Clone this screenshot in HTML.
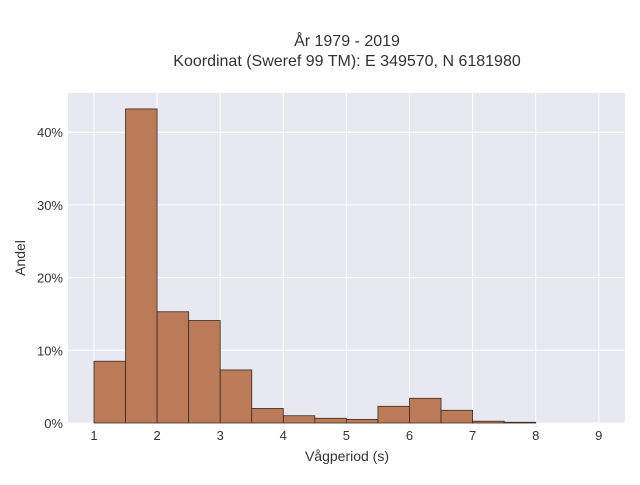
<!DOCTYPE html>
<html><head><meta charset="utf-8"><style>
body{margin:0;background:#fff;}
svg text{font-family:"Liberation Sans",sans-serif;fill:#333;}
</style></head><body>
<svg id="chart" width="640" height="480">
<text x="347" y="46" text-anchor="middle" font-size="16">År 1979 - 2019</text>
<text x="347" y="66" text-anchor="middle" font-size="16">Koordinat (Sweref 99 TM): E 349570, N 6181980</text>
<rect x="68" y="93" width="557" height="330" fill="#e8e8f0"/>
<g id="grid"></g><g id="bars"></g><g id="axes"></g>
<text x="347" y="461" text-anchor="middle" font-size="14">Vågperiod (s)</text>
<text x="25" y="258" text-anchor="middle" font-size="14" transform="rotate(-90 25 258)">Andel</text>
</svg>
<script>
const binStarts=[1,1.5,2,2.5,3,3.5,4,4.5,5,5.5,6,6.5,7,7.5];
const shares=[8.5,43.2,15.3,14.1,7.3,2.0,1.0,0.65,0.5,2.3,3.4,1.75,0.25,0.1];
const binWidth=0.5;
const xTicks=[1,2,3,4,5,6,7,8,9];
const yTicks=[0,10,20,30,40];
const X=v=>94+(v-1)*63.1;
const Y=v=>423-v*7.27;
const ns="http://www.w3.org/2000/svg";
const grid=document.getElementById('grid'),bars=document.getElementById('bars'),axes=document.getElementById('axes');
function mk(tag,a,p){const e=document.createElementNS(ns,tag);for(const k in a)e.setAttribute(k,a[k]);p.appendChild(e);return e;}
xTicks.forEach(t=>{
 const l=mk('line',{x1:X(t),x2:X(t),y1:93,y2:423,stroke:'#fff','stroke-width':1},grid);
 
 
 const tx=mk('text',{x:X(t),y:440,'text-anchor':'middle','font-size':13},axes);
 tx.textContent=t;
 
 
});
yTicks.forEach(t=>{
 const l=mk('line',{x1:68,x2:625,y1:Y(t),y2:Y(t),stroke:'#fff','stroke-width':1},grid);
 
 
 const tx=mk('text',{x:63,y:Y(t)+5,'text-anchor':'end','font-size':13},axes);
 tx.textContent=t+'%';
 
 
});
binStarts.forEach((s,i)=>{
 const r=mk('rect',{x:X(s),y:Y(shares[i]),width:X(s+binWidth)-X(s),height:Y(0)-Y(shares[i]),fill:'#bc7b58',stroke:'#3a2a22','stroke-width':0.8},bars);
 
 
});
</script>
</body></html>
